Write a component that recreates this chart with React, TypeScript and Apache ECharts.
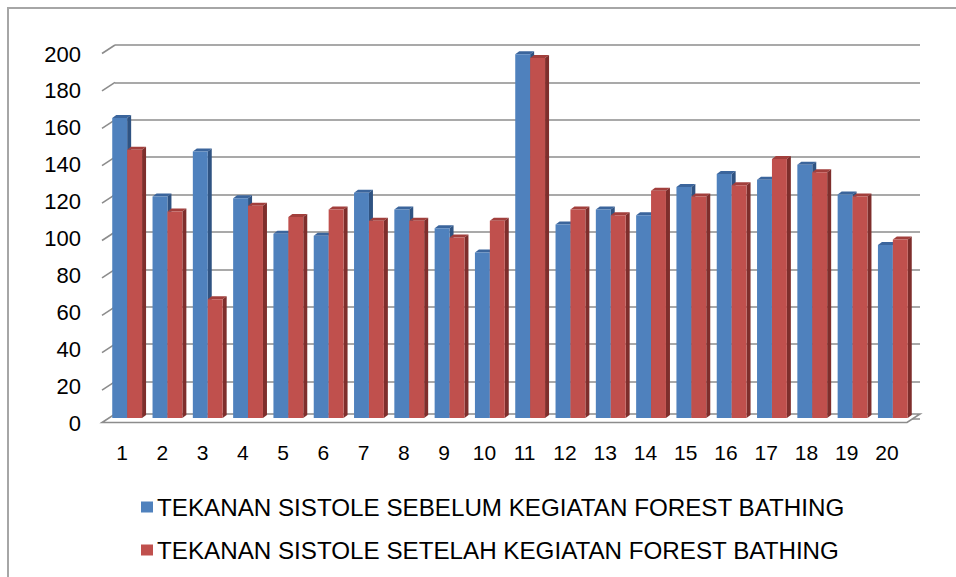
import React, { useEffect, useRef } from "react";
import * as echarts from "echarts";

const categories = ["1","2","3","4","5","6","7","8","9","10","11","12","13","14","15","16","17","18","19","20"];
const sebelum = [161,119,143,118,99,98,121,112,102,89,195,104,112,109,124,131,128,136,120,93];
const setelah = [144,111,64,114,108,112,106,106,97,106,193,112,109,122,119,125,139,132,119,96];
const yTicks = [0,20,40,60,80,100,120,140,160,180,200];
const seriesNames = [
  "TEKANAN SISTOLE SEBELUM KEGIATAN FOREST BATHING",
  "TEKANAN SISTOLE SETELAH KEGIATAN FOREST BATHING",
];

const FONT = "'Liberation Sans', Arial, sans-serif";
const GRID_COLOR = "#8c8c8c";

export default function App() {
  const ref = useRef<HTMLDivElement>(null);
  useEffect(() => {
    if (!ref.current) return;
    const chart = echarts.init(ref.current, undefined, { renderer: "svg" });
    const barRows = categories.map((_, i) => [i, sebelum[i], setelah[i]]);
    const DX = 4, DY = 3;
    const box = (x0: number, x1: number, yt: number, yb: number, front: string, top: string, side: string) => [
      { type: "polygon", shape: { points: [[x0, yt], [x0 + DX, yt - DY], [x1 + DX, yt - DY], [x1, yt]] }, style: { fill: top } },
      { type: "polygon", shape: { points: [[x1, yt], [x1 + DX, yt - DY], [x1 + DX, yb - DY], [x1, yb]] }, style: { fill: side } },
      { type: "rect", shape: { x: x0, y: yt, width: x1 - x0, height: yb - yt }, style: { fill: front } },
    ];
    chart.setOption({
      animation: false,
      backgroundColor: "#ffffff",
      textStyle: { fontFamily: FONT },
      graphic: [
        { type: "rect", shape: { x: 8, y: 8, width: 1100, height: 1100 }, style: { fill: "none", stroke: "#a6a6a6", lineWidth: 2 }, silent: true },
      ],
      legend: {
        orient: "vertical",
        left: 141,
        top: 495,
        padding: 0,
        itemWidth: 12,
        itemHeight: 11,
        itemGap: 19,
        icon: "rect",
        textStyle: { fontSize: 24.2, color: "#000", fontFamily: FONT, padding: [0, 0, 0, -1] },
        data: seriesNames,
      },
      grid: [
        { left: 115, right: 36, top: 45, bottom: 158 },
        { left: 102, right: 49, top: 54, bottom: 154 },
        { left: 107, right: 43, top: 45, bottom: 158 },
      ],
      xAxis: [
        { gridIndex: 0, type: "value", min: 0, max: 1, show: false },
        {
          gridIndex: 1, type: "category", data: categories,
          axisLine: { show: false }, axisTick: { show: false },
          axisLabel: { fontSize: 21, color: "#000", margin: 19, fontFamily: FONT },
        },
        { gridIndex: 2, type: "category", data: categories, show: false },
      ],
      yAxis: [
        {
          gridIndex: 0, type: "value", min: 0, max: 200, interval: 20,
          axisLabel: { show: false }, axisLine: { show: false }, axisTick: { show: false },
          splitLine: { show: true, lineStyle: { color: GRID_COLOR, width: 1.6 } },
        },
        {
          gridIndex: 1, type: "value", min: 0, max: 200, interval: 20,
          axisLabel: { fontSize: 22, color: "#000", margin: 21, fontFamily: FONT },
          axisLine: { show: false }, axisTick: { show: false }, splitLine: { show: false },
        },
        { gridIndex: 2, type: "value", min: 0, max: 200, interval: 20, show: false, splitLine: { show: false } },
      ],
      series: [
        {
          type: "custom",
          name: "walls",
          xAxisIndex: 0, yAxisIndex: 0,
          silent: true,
          data: yTicks.map((v) => [0, v]),
          encode: { x: 0, y: 1 },
          renderItem: (params: any, api: any) => {
            const v = api.value(1);
            const pl = api.coord([0, v]);
            const pr = api.coord([1, v]);
            const children: any[] = [];
            if (v === 0) {
              children.push({
                type: "polygon",
                shape: { points: [[pl[0], pl[1] - 5], [pr[0], pr[1] - 5], [pr[0] - 13, pr[1] + 3.5], [pl[0] - 13, pl[1] + 3.5]] },
                style: { fill: "#ffffff", stroke: GRID_COLOR, lineWidth: 1.6 },
              });
            } else {
              children.push({
                type: "line",
                shape: { x1: pl[0], y1: pl[1], x2: pl[0] - 13, y2: pl[1] + 8.5 },
                style: { stroke: GRID_COLOR, lineWidth: 1.6 },
              });
            }
            return { type: "group", children };
          },
          z: 1,
        },
        {
          type: "custom",
          name: seriesNames[0],
          xAxisIndex: 2, yAxisIndex: 2,
          itemStyle: { color: "#4F81BD" },
          data: barRows,
          encode: { x: 0, y: [1, 2] },
          renderItem: (params: any, api: any) => {
            const i = api.value(0);
            const b = api.value(1);
            const a = api.value(2);
            const base = api.coord([i, 0]);
            const band = api.size([1, 0])[0];
            const w = band * 0.37;
            const cx = base[0];
            const yb = base[1] - 1;
            const tb = api.coord([i, b])[1];
            const ta = api.coord([i, a])[1];
            return {
              type: "group",
              children: [
                ...box(cx - w, cx, tb, yb, "#4F81BD", "#3B659C", "#2F5382"),
                ...box(cx, cx + w, ta, yb, "#C0504D", "#A23F3C", "#7E2E2C"),
              ],
            };
          },
          z: 3,
        },
        {
          type: "custom",
          name: seriesNames[1],
          xAxisIndex: 2, yAxisIndex: 2,
          itemStyle: { color: "#C0504D" },
          data: [],
          renderItem: () => ({ type: "group", children: [] }),
        },
      ],
    });
    return () => chart.dispose();
  }, []);
  return <div ref={ref} style={{ position: "fixed", left: 0, top: 0, width: 956, height: 577 }} />;
}
